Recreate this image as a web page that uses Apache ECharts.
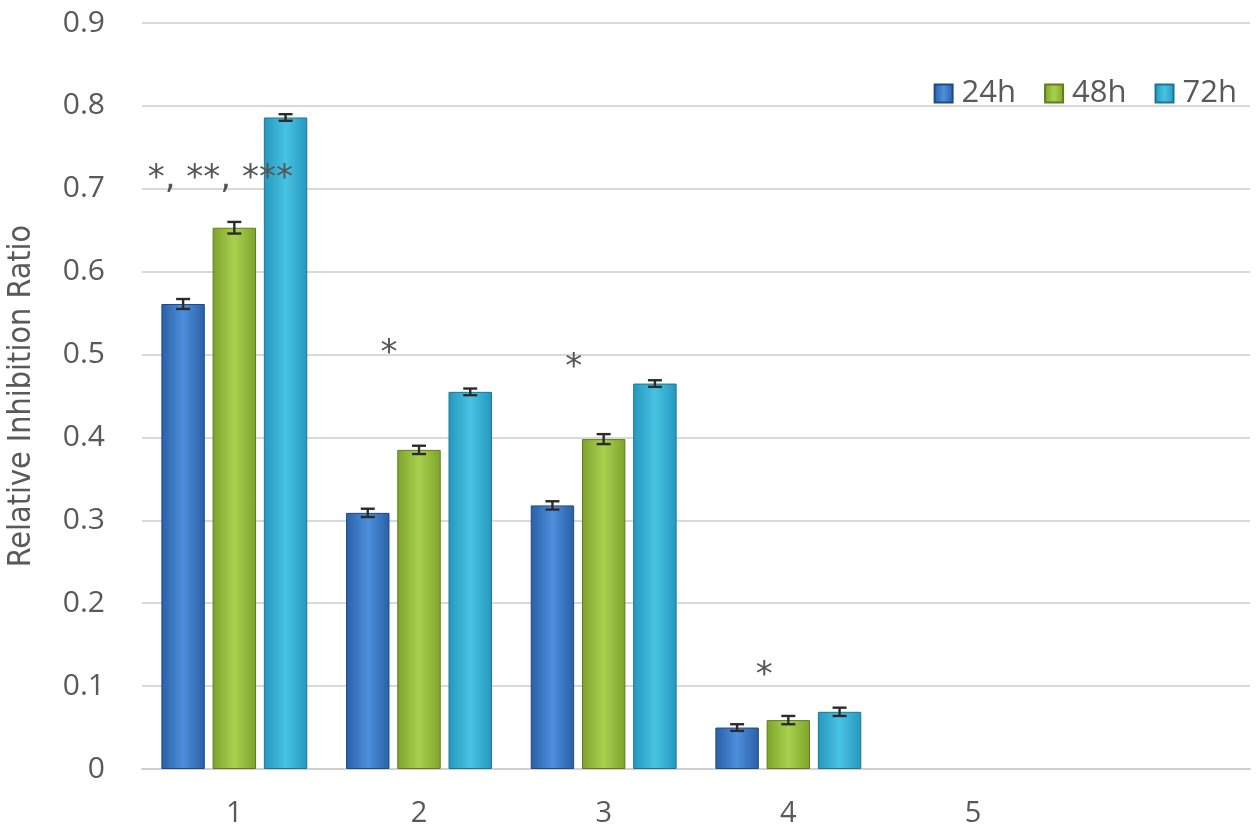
<!DOCTYPE html>
<html><head><meta charset="utf-8">
<script src="https://cdn.jsdelivr.net/npm/echarts@6/dist/echarts.min.js"></script>
<style>html,body{margin:0;padding:0;background:#fff}#c{width:1256px;height:838px}</style>
</head><body><div id="c"></div>
<script>
const categories = ['1','2','3','4','5',''];
const seriesNames = ['24h','48h','72h'];
const v24 = [0.561, 0.309, 0.318, 0.050, null, null];
const v48 = [0.653, 0.385, 0.398, 0.059, null, null];
const v72 = [0.786, 0.455, 0.465, 0.069, null, null];
const e24 = [0.006, 0.005, 0.005, 0.004, null, null];
const e48 = [0.007, 0.005, 0.006, 0.005, null, null];
const e72 = [0.004, 0.004, 0.004, 0.005, null, null];
const annotations = [
  {cat: 0, y: 0.712, text: '*, **, ***', dx: -14},
  {cat: 1, y: 0.5, text: '*', dx: -30},
  {cat: 2, y: 0.483, text: '*', dx: -30},
  {cat: 3, y: 0.112, text: '*', dx: -24}
];
const yTicks = {min: 0, max: 0.9, interval: 0.1};

const colors = [
  ['#2a5fa6','#4d8fdc','#2a5fa6'],
  ['#7ea32c','#a9d04e','#7ea32c'],
  ['#2597bd','#47c3e3','#2597bd']
];
const border = ['#1f4a85','#5f7d1e','#1b7695'];
const CAT_GAP = 0.21, BAR_GAP = 0.18;

function grad(c){
  return new echarts.graphic.LinearGradient(0,0,1,0,[
    {offset:0,color:c[0]},{offset:0.5,color:c[1]},{offset:1,color:c[2]}]);
}
const vals = [v24, v48, v72];
const errs = [e24, e48, e72];

const series = [];
seriesNames.forEach((n, i) => {
  series.push({
    name: n, type: 'bar', data: vals[i],
    barCategoryGap: (CAT_GAP*100)+'%', barGap: (BAR_GAP*100)+'%',
    itemStyle: {color: grad(colors[i]), borderColor: border[i], borderWidth: 1}
  });
});
seriesNames.forEach((n, i) => {
  const data = [];
  vals[i].forEach((v, k) => { if (v != null) data.push([k, v, errs[i][k]]); });
  series.push({
    type: 'custom', name: n + '_err', silent: true, z: 5,
    data: data,
    renderItem: function(params, api){
      const k = api.value(0), v = api.value(1), e = api.value(2);
      const band = api.size([1, 0])[0];
      const bw = band*(1-CAT_GAP)/(3+2*BAR_GAP);
      const off = (i-1)*bw*(1+BAR_GAP);
      const hi = api.coord([k, v+e]), lo = api.coord([k, v-e]);
      const x = hi[0] + off, cap = 7;
      const st = {stroke:'#2b2b2b', lineWidth:2.4};
      return {type:'group', children:[
        {type:'line', shape:{x1:x,y1:hi[1],x2:x,y2:lo[1]}, style:st},
        {type:'line', shape:{x1:x-cap,y1:hi[1],x2:x+cap,y2:hi[1]}, style:st},
        {type:'line', shape:{x1:x-cap,y1:lo[1],x2:x+cap,y2:lo[1]}, style:st}
      ]};
    }
  });
});
series.push({
  type:'custom', name:'annot', silent:true, z:6,
  data: annotations.map(a => [a.cat, a.y, a.dx]),
  renderItem: function(params, api){
    const a = annotations[params.dataIndex];
    const p = api.coord([api.value(0), api.value(1)]);
    return {type:'text', x: p[0]+api.value(2), y: p[1],
      style:{text:a.text, fill:'#555', font:'34px "DejaVu Sans"', align:'center', verticalAlign:'middle'}};
  }
});

const chart = echarts.init(document.getElementById('c'));
chart.setOption({
  animation: false,
  backgroundColor: '#fff',
  grid: {left: 142, right: 6, top: 23, bottom: 69, containLabel: false, outerBoundsMode: 'none'},
  legend: {
    data: seriesNames, right: 14, top: 73, itemWidth: 18, itemHeight: 18, itemGap: 28,
    icon: 'rect',
    textStyle: {fontSize: 31, color: '#595959', fontFamily: 'Open Sans', padding: [0,0,0,4]}
  },
  xAxis: {
    type: 'category', data: categories,
    axisLine: {lineStyle: {color: '#d0d0d0', width: 2}},
    axisTick: {show: false},
    axisLabel: {fontSize: 29, color: '#595959', fontFamily: 'Open Sans', margin: 30}
  },
  yAxis: {
    type: 'value', min: yTicks.min, max: yTicks.max, interval: yTicks.interval,
    name: 'Relative Inhibition Ratio', nameLocation: 'middle', nameGap: 104,
    nameTextStyle: {fontSize: 32, color: '#595959', fontFamily: 'DejaVu Sans Condensed, Roboto Condensed, Liberation Sans'},
    axisLine: {show: false}, axisTick: {show: false},
    splitLine: {lineStyle: {color: '#d9d9d9', width: 2}},
    axisLabel: {fontSize: 30, color: '#595959', fontFamily: 'Open Sans', margin: 37,
      formatter: v => v === 0 ? '0' : v.toFixed(1)}
  },
  series: series
});
</script></body></html>
